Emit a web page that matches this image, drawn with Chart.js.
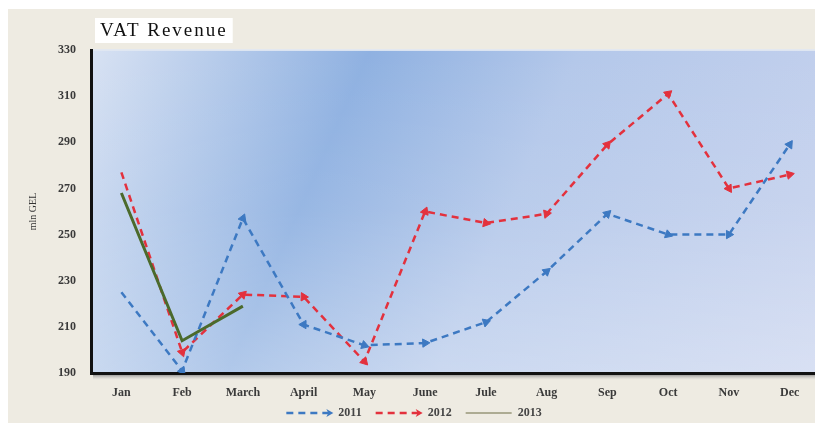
<!DOCTYPE html>
<html>
<head>
<meta charset="utf-8">
<script src="https://cdn.jsdelivr.net/npm/chart.js@4/dist/chart.umd.min.js"></script>
<style>
  html, body { margin: 0; padding: 0; background: #ffffff; overflow: hidden; width: 815px; height: 423px; }
  #wrap { position: absolute; left: 8px; top: 9px; width: 830px; height: 414px; background: #eeebe2; overflow: hidden; }
  canvas { display: block; }
</style>
</head>
<body>
<div id="wrap"><canvas id="c" width="830" height="420"></canvas></div>
<script>
const chartTitle = 'VAT Revenue';
const yAxisTitle = 'mln GEL';
const months = ['Jan', 'Feb', 'March', 'April', 'May', 'June', 'Jule', 'Aug', 'Sep', 'Oct', 'Nov', 'Dec'];
const seriesNames = ['2011', '2012', '2013'];
const vat2011 = [225, 191, 257, 211, 202, 203, 212, 234, 259, 250, 250, 289];
const vat2012 = [277, 199, 224, 223, 195, 260, 255, 259, 289, 311, 270, 276];
const vat2013 = [268, 204, 219];
const yMin = 190, yMax = 330, yStep = 20;

const SERIF = '"Liberation Serif", "Times New Roman", serif';
const BLUE = '#3d79c2';
const RED = '#e3313d';
const GREEN = '#4b6a2c';

function arrowRotation(ctx) {
  if (ctx.type !== 'data') return 0;
  const i = ctx.dataIndex;
  if (i === 0) return 0;
  const ch = ctx.chart, data = ctx.dataset.data;
  const xs = ch.scales.x, ys = ch.scales.y;
  if (!xs || !ys) return 0;
  const dx = xs.getPixelForValue(i) - xs.getPixelForValue(i - 1);
  const dy = ys.getPixelForValue(data[i]) - ys.getPixelForValue(data[i - 1]);
  return Math.atan2(dy, dx) * 180 / Math.PI + 90;
}
function arrowRadius(ctx) {
  return (ctx.type === 'data' && ctx.dataIndex > 0) ? 4.8 : 0;
}

const bgPlugin = {
  id: 'bgPlugin',
  beforeDraw(chart) {
    const { ctx, chartArea: a } = chart;
    ctx.save();
    const g = ctx.createLinearGradient(a.left, a.top, a.right, a.bottom);
    g.addColorStop(0, '#d8e2f3');
    g.addColorStop(0.32, '#8fb1e1');
    g.addColorStop(0.56, '#b4c8ea');
    g.addColorStop(1, '#c8d3ee');
    ctx.fillStyle = g;
    ctx.fillRect(a.left, a.top, a.right - a.left, a.bottom - a.top);
    const v = ctx.createLinearGradient(0, a.top, 0, a.bottom);
    v.addColorStop(0, 'rgba(255,255,255,0)');
    v.addColorStop(0.5, 'rgba(255,255,255,0.08)');
    v.addColorStop(1, 'rgba(255,255,255,0.3)');
    ctx.fillStyle = v;
    ctx.fillRect(a.left, a.top, a.right - a.left, a.bottom - a.top);
    ctx.fillStyle = 'rgba(225,232,242,0.9)';
    ctx.fillRect(a.left, a.top - 1, a.right - a.left, 2);
    const s = ctx.createLinearGradient(0, a.bottom + 1, 0, a.bottom + 7);
    s.addColorStop(0, 'rgba(120,120,120,0.9)');
    s.addColorStop(1, 'rgba(200,200,200,0)');
    ctx.fillStyle = s;
    ctx.fillRect(a.left + 2, a.bottom + 1, a.right - a.left, 6);
    // title box
    ctx.font = '19px ' + SERIF;
    ctx.letterSpacing = '2px';
    const tw = ctx.measureText(chartTitle).width;
    const bx = a.left + 4, by = a.top - 32;
    ctx.fillStyle = '#ffffff';
    ctx.fillRect(bx, by, tw + 10, 25);
    ctx.fillStyle = '#111111';
    ctx.textBaseline = 'middle';
    ctx.textAlign = 'left';
    ctx.fillText(chartTitle, bx + 5, by + 13);
    ctx.letterSpacing = '0px';
    ctx.restore();
  },
  afterDraw(chart) {
    const lg = chart.legend;
    if (!lg || !lg.legendHitBoxes) return;
    const ctx = chart.ctx;
    const bw = chart.options.plugins.legend.labels.pointStyleWidth;
    const cols = [BLUE, RED];
    ctx.save();
    for (let i = 0; i < 2; i++) {
      const hb = lg.legendHitBoxes[i];
      if (!hb) continue;
      const x = hb.left + bw, y = hb.top + hb.height / 2;
      ctx.fillStyle = cols[i];
      ctx.beginPath();
      ctx.moveTo(x + 1, y);
      ctx.lineTo(x - 6, y - 4);
      ctx.lineTo(x - 4, y);
      ctx.lineTo(x - 6, y + 4);
      ctx.closePath();
      ctx.fill();
    }
    ctx.restore();
  }
};

new Chart(document.getElementById('c'), {
  type: 'line',
  data: {
    labels: months,
    datasets: [
      {
        label: seriesNames[0], data: vat2011, order: 1,
        borderColor: BLUE, backgroundColor: BLUE, borderWidth: 2.5, borderDash: [7, 5],
        tension: 0, fill: false,
        pointStyle: 'triangle', pointRadius: arrowRadius, pointRotation: arrowRotation,
        pointBackgroundColor: BLUE, pointBorderColor: BLUE, pointBorderWidth: 1
      },
      {
        label: seriesNames[1], data: vat2012, order: 2,
        borderColor: RED, backgroundColor: RED, borderWidth: 2.5, borderDash: [7, 5],
        tension: 0, fill: false,
        pointStyle: 'triangle', pointRadius: arrowRadius, pointRotation: arrowRotation,
        pointBackgroundColor: RED, pointBorderColor: RED, pointBorderWidth: 1
      },
      {
        label: seriesNames[2], data: vat2013, order: 0,
        borderColor: GREEN, backgroundColor: GREEN, borderWidth: 3,
        tension: 0, fill: false, pointRadius: 0
      }
    ]
  },
  options: {
    responsive: false,
    animation: false,
    devicePixelRatio: 1,
    layout: { padding: { top: 41, right: 18, left: 0, bottom: 0 } },
    plugins: {
      title: { display: false },
      tooltip: { enabled: false },
      legend: {
        position: 'bottom',
        labels: {
          usePointStyle: true,
          pointStyle: 'line',
          pointStyleWidth: 46,
          boxHeight: 12,
          padding: 14,
          color: '#444444',
          font: { family: SERIF, size: 12, weight: 'bold' },
          sort: (a, b) => a.datasetIndex - b.datasetIndex,
          generateLabels(chart) {
            const items = Chart.defaults.plugins.legend.labels.generateLabels(chart);
            items.forEach(it => {
              if (it.datasetIndex === 2) { it.lineWidth = 1; it.strokeStyle = '#6d6d45'; it.lineDash = []; }
              else { it.lineWidth = 2.5; it.lineDash = [7, 5]; }
            });
            return items;
          }
        }
      }
    },
    scales: {
      x: {
        offset: true,
        grid: { display: false, offset: true, drawTicks: false },
        border: { display: true, color: '#111111', width: 3 },
        ticks: { color: '#3a3a3a', padding: 13, font: { family: SERIF, size: 12, weight: 'bold' }, maxRotation: 0, autoSkip: false },
        afterFit(scale) { scale.height = 20; scale._computeLabelArea = () => undefined; }
      },
      y: {
        min: yMin, max: yMax,
        grid: { display: false },
        border: { display: true, color: '#111111', width: 3 },
        ticks: { stepSize: yStep, color: '#3a3a3a', padding: 7, font: { family: SERIF, size: 12, weight: 'bold' } },
        title: { display: true, text: yAxisTitle, color: '#333333', padding: { top: 19, bottom: 0 }, font: { family: SERIF, size: 10 } },
        afterFit(scale) { scale.width = 83; }
      }
    }
  },
  plugins: [bgPlugin]
});
</script>
</body>
</html>
